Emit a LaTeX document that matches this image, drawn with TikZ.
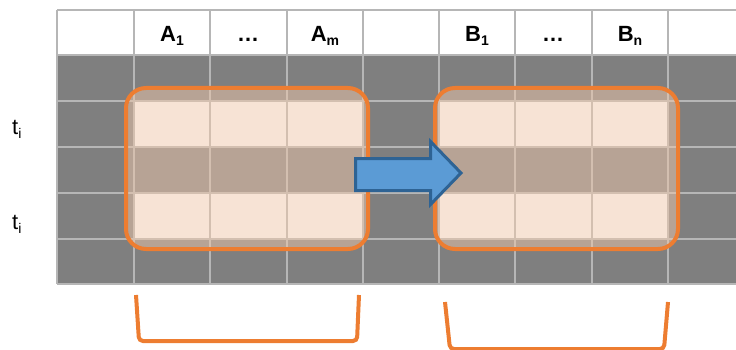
\documentclass[tikz,border=0pt]{standalone}
\usepackage{fontspec}
\setmainfont{Liberation Sans}
\definecolor{cellclr}{RGB}{127,127,127}
\definecolor{lineclr}{RGB}{182,182,182}
\definecolor{boxclr}{RGB}{237,125,49}
\definecolor{tintclr}{RGB}{240,200,172}
\definecolor{arrowclr}{RGB}{91,155,213}
\definecolor{arrowedge}{RGB}{46,99,148}
\newcommand{\subidx}[1]{\raisebox{-4pt}{\fontsize{14}{14}\selectfont #1}}

\begin{document}
\begin{tikzpicture}[
    x=1pt,
    y=-1pt,
    font=\fontsize{22}{26}\selectfont,
    darkcell/.style={fill=cellclr},
    whitecell/.style={fill=white},
    gridline/.style={draw=lineclr, line width=2pt},
    headlabel/.style={anchor=base, inner sep=0pt, font=\fontsize{22}{26}\selectfont\bfseries},
    rowlabel/.style={anchor=base west, inner sep=0pt},
    groupbox/.style={draw=boxclr, line width=4pt, rounded corners=20pt, fill=tintclr, fill opacity=0.5, minimum width=242pt, minimum height=161pt, inner sep=0pt},
    blockarrow/.style={fill=arrowclr, draw=arrowedge, line width=3pt},
    brace/.style={draw=boxclr, line width=4pt, rounded corners=4pt}
]
\useasboundingbox (0,0) rectangle (736,350);

% Table cells.
\fill[darkcell] (57,55) rectangle (736,284);
\fill[whitecell] (134,101) rectangle (363,147);
\fill[whitecell] (134,193) rectangle (363,239);
\fill[whitecell] (439,101) rectangle (668,147);
\fill[whitecell] (439,193) rectangle (668,239);

% Grid lines.
\draw[gridline] (57,10) -- (736,10) (57,55) -- (736,55) (57,101) -- (736,101) (57,147) -- (736,147)
    (57,193) -- (736,193) (57,239) -- (736,239) (57,284) -- (736,284);
\draw[gridline] (57,10) -- (57,284) (134,10) -- (134,284) (210,10) -- (210,284) (287,10) -- (287,284)
    (363,10) -- (363,284) (439,10) -- (439,284) (515,10) -- (515,284) (592,10) -- (592,284) (668,10) -- (668,284);

% Column headers.
\node[headlabel] (hA1) at (172,42) {A\subidx{1}};
\node[headlabel] (hAdots) at (248,42) {…};
\node[headlabel] (hAm) at (325,42) {A\subidx{m}};
\node[headlabel] (hB1) at (477,42) {B\subidx{1}};
\node[headlabel] (hBdots) at (553,42) {…};
\node[headlabel] (hBn) at (630,42) {B\subidx{n}};

% Row labels.
\node[rowlabel] (ti1) at (12,135) {t\subidx{i}};
\node[rowlabel] (ti2) at (12,229) {t\subidx{i}};

% Selected blocks.
\node[groupbox] (srcbox) at (247,168.5) {};
\node[groupbox, minimum width=243pt] (dstbox) at (556.5,168.5) {};

% Block arrow.
\draw[blockarrow] (355.5,158.5) -- (430.5,158.5) -- (430.5,141.5) -- (461,173) -- (430.5,204.5) -- (430.5,190.5) -- (355.5,190.5) -- cycle;

% Brackets.
\draw[brace] (136,295) -- (139,341) -- (357,341) -- (359,295);
\draw[brace] (445,302) -- (450,349) -- (664,349) -- (668,302);

\end{tikzpicture}
\end{document}
